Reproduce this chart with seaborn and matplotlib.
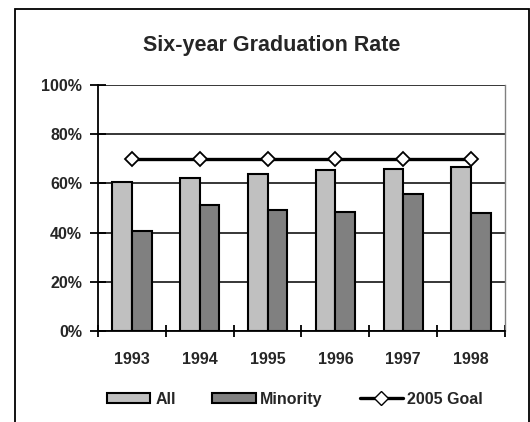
import seaborn as sns
import matplotlib.pyplot as plt
import matplotlib.patches as mpatches
from matplotlib.lines import Line2D
import pandas as pd
import numpy as np

sns.set_style("white")
plt.rcParams["font.family"] = ["Liberation Sans", "DejaVu Sans"]
plt.rcParams["font.weight"] = "bold"

# --- data ---
years = ["1993", "1994", "1995", "1996", "1997", "1998"]
all_rate = [60.4, 62.3, 63.7, 65.4, 65.7, 66.5]
minority_rate = [40.7, 51.3, 49.3, 48.4, 55.7, 48.1]
goal_rate = [70, 70, 70, 70, 70, 70]
groups = ["All", "Minority"]
colors = {"All": "#C0C0C0", "Minority": "#808080"}

df = pd.DataFrame({
    "year": years * 2,
    "rate": all_rate + minority_rate,
    "group": ["All"] * len(years) + ["Minority"] * len(years),
})

fig = plt.figure(figsize=(5.3, 4.22), dpi=100)
ax = fig.add_axes([0.1849, 0.2156, 0.7679, 0.583])

sns.barplot(data=df, x="year", y="rate", hue="group", order=years,
            hue_order=groups, palette=colors, width=0.58, gap=0,
            edgecolor="black", linewidth=1.5, saturation=1,
            legend=False, ax=ax)

ax.plot(range(len(years)), goal_rate, color="black", lw=2.4, marker="D",
        markersize=7, markerfacecolor="white", markeredgecolor="black",
        markeredgewidth=1.3, zorder=5)

# axes styling (Excel-like)
ax.set_xlim(-0.5, len(years) - 0.5)
ax.set_ylim(0, 100)
ax.set_yticks([0, 20, 40, 60, 80, 100])
ax.set_yticklabels([f"{v}%" for v in [0, 20, 40, 60, 80, 100]])
ax.yaxis.grid(True, color="black", lw=1.1)
ax.set_axisbelow(True)
ax.set_xlabel("")
ax.set_ylabel("")

ax.set_xticks(range(len(years)))
ax.set_xticklabels(years)
ax.set_xticks(np.arange(-0.5, len(years), 1), minor=True)
ax.tick_params(axis="x", which="major", bottom=True, length=0, pad=15,
               labelsize=11.5)
ax.tick_params(axis="x", which="minor", bottom=True, direction="inout",
               length=9, width=1.3, color="black")
ax.tick_params(axis="y", left=True, direction="inout", length=11, width=1.3,
               pad=6, labelsize=11.5, color="black")

for side in ["left", "bottom"]:
    ax.spines[side].set_color("black")
    ax.spines[side].set_linewidth(1.3)
ax.spines["top"].set_visible(False)
ax.spines["right"].set_color("#808080")
ax.spines["right"].set_linewidth(1)

fig.text(0.512, 0.893, "Six-year Graduation Rate", ha="center", va="center",
         fontsize=15.5, fontweight="bold")

# legend below the plot
handles = [
    mpatches.Patch(facecolor=colors["All"], edgecolor="black", lw=1.5, label="All"),
    mpatches.Patch(facecolor=colors["Minority"], edgecolor="black", lw=1.5, label="Minority"),
    Line2D([0], [0], color="black", lw=2.4, marker="D", markersize=7,
           markerfacecolor="white", markeredgecolor="black", label="2005 Goal"),
]
fig.legend(handles=handles, loc="center", bbox_to_anchor=(0.557, 0.054),
           ncol=3, frameon=False, fontsize=11.5, handlelength=2.7,
           handleheight=0.6, handletextpad=0.3, columnspacing=2.3)

# outer chart border
fig.patches.append(mpatches.Rectangle((15 / 530, -0.02), 514 / 530, 1.02 - 9 / 422,
                                      transform=fig.transFigure, fill=False,
                                      edgecolor="black", lw=1.3))

fig.savefig("out.png", dpi=100)
plt.close(fig)
